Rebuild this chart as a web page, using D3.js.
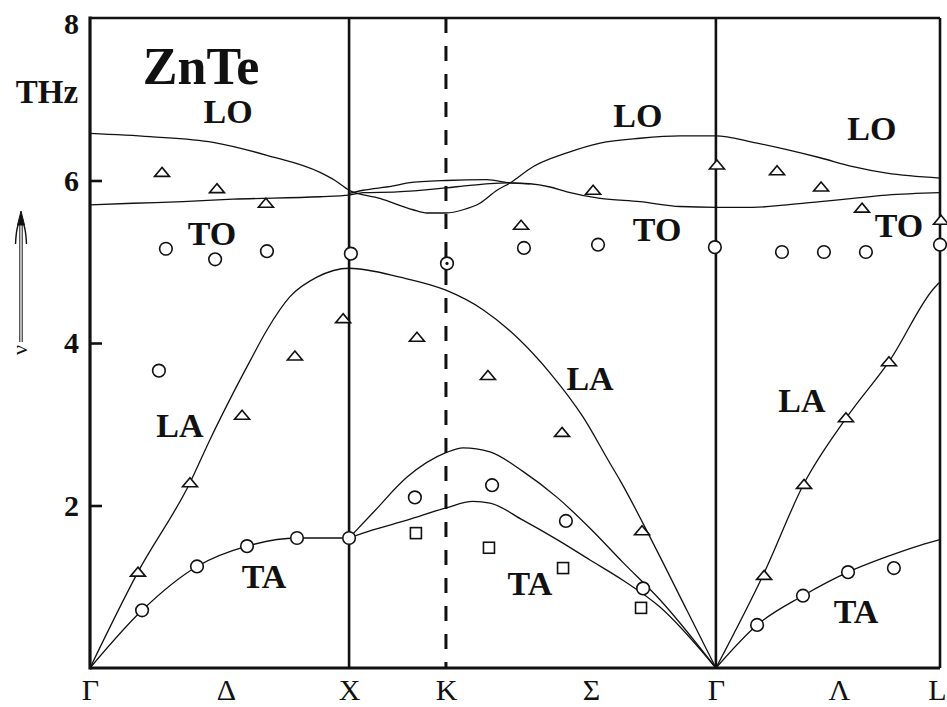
<!DOCTYPE html>
<html>
<head>
<meta charset="utf-8">
<script src="https://cdn.jsdelivr.net/npm/d3@7"></script>
<style>
  body { margin: 0; background: #fff; }
  svg { display: block; }
  text { fill: #111; }
</style>
</head>
<body>
<svg id="chart" width="947" height="707"></svg>
<script>
// ZnTe phonon dispersion along Γ–X–K–Γ–L (wave vector in units of 2π/a, frequency ν in THz)

// High-symmetry points and direction labels along the path
const pointLabels = ["Γ", "Δ", "X", "K", "Σ", "Γ", "Λ", "L"];
const pointQ      = [0, 0.525, 1.0, 1.374, 1.934, 2.416, 2.891, 3.281];
const qMax = 3.281;
const boundaryQ = [1.0, 2.416];   // solid zone-boundary lines (X, Γ)
const dashedQ = [1.374];          // K
const yTicks = [2, 4, 6, 8];

// Calculated branches: [q, ν]
const branchLO = [[0,6.58],[0.232,6.54],[0.475,6.47],[0.683,6.31],[0.888,6.10],[0.946,6.0],[1.0,5.88],
  [1.119,5.78],[1.247,5.64],[1.301,5.60],[1.374,5.60],[1.440,5.64],[1.505,5.72],[1.571,5.88],[1.621,5.97],
  [1.710,6.17],[1.841,6.34],[1.969,6.46],[2.123,6.52],[2.277,6.55],[2.416,6.55],[2.559,6.47],[2.690,6.38],
  [2.818,6.28],[2.945,6.17],[3.076,6.09],[3.281,6.03]];
const branchTO1 = [[0,5.70],[0.166,5.72],[0.359,5.74],[0.552,5.77],[0.888,5.80],[1.0,5.82],[1.054,5.85],
  [1.185,5.86],[1.374,5.91],[1.467,5.94],[1.610,5.97],[1.698,5.96],[1.776,5.92],[1.841,5.86],[1.969,5.78],
  [2.123,5.74],[2.277,5.68],[2.416,5.67],[2.559,5.67],[2.690,5.70],[2.818,5.74],[2.945,5.78],[3.076,5.82],
  [3.281,5.85]];
const branchTO2 = [[1.0,5.84],[1.054,5.88],[1.166,5.93],[1.227,5.97],[1.374,6.0],[1.532,6.01],[1.621,5.97],[1.698,5.96]];
const branchLA1 = [[0,0],[0.185,1.18],[0.386,2.28],[0.463,2.81],[0.552,3.38],[0.618,3.78],[0.683,4.16],
  [0.772,4.57],[0.876,4.81],[1.0,4.92],[1.197,4.81],[1.374,4.65],[1.517,4.41],[1.648,4.07],[1.776,3.63],
  [1.903,3.09],[2.007,2.52],[2.046,2.31],[2.173,1.54],[2.304,0.71],[2.416,0]];
const branchLA2 = [[2.416,0],[2.602,1.17],[2.756,2.27],[2.922,3.09],[3.088,3.79],[3.262,4.69],[3.281,4.75]];
const branchTA1 = [[0,0],[0.201,0.71],[0.413,1.25],[0.606,1.50],[0.799,1.60],[1.0,1.60]];
const branchTAupper = [[1.0,1.60],[1.092,1.91],[1.224,2.35],[1.374,2.65],[1.440,2.71],[1.544,2.66],
  [1.671,2.42],[1.803,2.10],[1.930,1.72],[2.057,1.30],[2.200,0.84],[2.416,0]];
const branchTAlower = [[1.0,1.60],[1.092,1.70],[1.224,1.82],[1.374,1.97],[1.478,2.05],[1.544,2.03],
  [1.671,1.82],[1.803,1.58],[1.930,1.33],[2.057,1.08],[2.200,0.75],[2.416,0]];
const branchTA2 = [[2.416,0],[2.575,0.53],[2.752,0.89],[2.926,1.18],[3.076,1.37],[3.204,1.51],[3.281,1.58]];

// Measured frequencies
const triangles = [[0.278,6.10],[0.490,5.90],[0.679,5.72],[0.185,1.18],[0.386,2.28],[0.587,3.11],
  [0.791,3.84],[0.977,4.30],[1.262,4.07],[1.536,3.60],[1.822,2.90],[2.131,1.69],[1.942,5.88],[1.664,5.45],
  [2.420,6.19],[2.652,6.12],[2.822,5.92],[2.980,5.66],[3.285,5.51],[2.602,1.14],[2.756,2.26],
  [2.918,3.08],[3.084,3.77]];
const circles = [[0.266,3.66],[0.293,5.16],[0.483,5.03],[0.683,5.13],[1.007,5.10],[1.675,5.17],
  [1.961,5.21],[2.412,5.18],[2.671,5.12],[2.833,5.12],[2.995,5.12],[3.281,5.21],
  [0.201,0.71],[0.413,1.25],[0.606,1.50],[0.799,1.60],[1.0,1.60],[1.254,2.10],[1.552,2.25],
  [1.837,1.81],[2.135,0.98],[2.575,0.53],[2.752,0.89],[2.926,1.18],[3.103,1.23]];
const dottedCircles = [[1.378,4.98]];
const squares = [[1.258,1.66],[1.540,1.48],[1.826,1.23],[2.127,0.74]];

// Branch names placed in the plot (q, ν of the text baseline centre)
const branchNames = [
  {t:"LO", q:0.533, v:6.71}, {t:"TO", q:0.471, v:5.21}, {t:"LA", q:0.347, v:2.84}, {t:"TA", q:0.672, v:0.985},
  {t:"LO", q:2.115, v:6.66}, {t:"TO", q:2.189, v:5.25}, {t:"LA", q:1.930, v:3.42}, {t:"TA", q:1.698, v:0.90},
  {t:"LO", q:3.018, v:6.50}, {t:"TO", q:3.123, v:5.30}, {t:"LA", q:2.748, v:3.15}, {t:"TA", q:2.957, v:0.554}
];
const title = {t:"ZnTe", q:0.429, v:7.19};

const svg = d3.select("#chart");
const x = d3.scaleLinear().domain([0, qMax]).range([90, 940]);
const y = d3.scaleLinear().domain([0, 8]).range([668, 18]);
const serif = "'Liberation Serif', 'DejaVu Serif', serif";

// Curves
const line = d3.line().x(d => x(d[0])).y(d => y(d[1])).curve(d3.curveMonotoneX);
const branches = [branchLO, branchTO1, branchTO2, branchLA1, branchLA2, branchTA1, branchTAupper, branchTAlower, branchTA2];
svg.append("g").selectAll("path").data(branches).join("path")
  .attr("d", line).attr("fill", "none").attr("stroke", "#111").attr("stroke-width", 1.3);

// Zone-boundary lines
svg.append("g").selectAll("line").data(boundaryQ).join("line")
  .attr("x1", d => x(d)).attr("x2", d => x(d)).attr("y1", y(8)).attr("y2", y(0))
  .attr("stroke", "#111").attr("stroke-width", 2.6);
svg.append("g").selectAll("line").data(dashedQ).join("line")
  .attr("x1", d => x(d)).attr("x2", d => x(d)).attr("y1", y(8)).attr("y2", y(0))
  .attr("stroke", "#111").attr("stroke-width", 3).attr("stroke-dasharray", "15,13");

// Frame
const frame = svg.append("g").attr("stroke", "#111");
frame.append("line").attr("x1", x(0)).attr("x2", x(qMax)).attr("y1", y(8)).attr("y2", y(8)).attr("stroke-width", 2.6);
frame.append("line").attr("x1", x(qMax)).attr("x2", x(qMax)).attr("y1", y(8)).attr("y2", y(0)).attr("stroke-width", 2.6);
frame.append("line").attr("x1", x(0)).attr("x2", x(qMax)).attr("y1", y(0)).attr("y2", y(0)).attr("stroke-width", 3.2);
frame.append("line").attr("x1", x(0)).attr("x2", x(0)).attr("y1", y(8) - 1.5).attr("y2", y(0) + 1.5).attr("stroke-width", 3.2);

// Axes
const yAxis = svg.append("g").attr("transform", `translate(${x(0)},0)`)
  .call(d3.axisLeft(y).tickValues(yTicks).tickSize(-12).tickPadding(11).tickFormat(d3.format("d")));
yAxis.select(".domain").remove();
yAxis.selectAll(".tick line").attr("stroke", "#111").attr("stroke-width", 2.6);
yAxis.selectAll(".tick text").attr("font-family", serif).attr("font-weight", "bold")
  .attr("font-size", 30).attr("fill", "#111");
yAxis.selectAll(".tick").filter(d => d === 8).select("line").remove();
yAxis.selectAll(".tick").filter(d => d === 8).select("text").attr("dy", "0.52em");

const xAxis = svg.append("g").attr("transform", `translate(0,${y(0)})`)
  .call(d3.axisBottom(x).tickValues(pointQ).tickSize(0).tickPadding(11).tickFormat((d, i) => pointLabels[i]));
xAxis.select(".domain").remove();
xAxis.selectAll(".tick text").attr("font-family", serif).attr("font-size", 30).attr("fill", "#111");
// keep the end label inside the drawing
xAxis.selectAll(".tick").filter((d, i) => i === pointQ.length - 1).select("text").attr("dx", -3);

// Markers
const mk = svg.append("g").attr("fill", "#fff").attr("stroke", "#111").attr("stroke-width", 1.6);
mk.selectAll("path.tri").data(triangles).join("path").attr("class", "tri")
  .attr("transform", d => `translate(${x(d[0])},${y(d[1])})`)
  .attr("d", "M0,-5 L7.5,4 L-7.5,4 Z");
mk.selectAll("circle.c").data(circles.concat(dottedCircles)).join("circle").attr("class", "c")
  .attr("cx", d => x(d[0])).attr("cy", d => y(d[1])).attr("r", 6.3);
svg.append("g").selectAll("circle").data(dottedCircles).join("circle")
  .attr("cx", d => x(d[0])).attr("cy", d => y(d[1])).attr("r", 1.6).attr("fill", "#111");
mk.selectAll("rect").data(squares).join("rect")
  .attr("x", d => x(d[0]) - 5.5).attr("y", d => y(d[1]) - 5.5).attr("width", 11).attr("height", 11);

// Branch names and title
svg.append("g").selectAll("text").data(branchNames).join("text")
  .attr("x", d => x(d.q)).attr("y", d => y(d.v)).attr("text-anchor", "middle")
  .attr("font-family", serif).attr("font-weight", "bold").attr("font-size", 34).text(d => d.t);
svg.append("text").attr("x", x(title.q)).attr("y", y(title.v)).attr("text-anchor", "middle")
  .attr("font-family", serif).attr("font-weight", "bold").attr("font-size", 52).text(title.t);

// Frequency axis title and ν arrow
svg.append("text").attr("x", 47).attr("y", 103).attr("text-anchor", "middle")
  .attr("font-family", serif).attr("font-weight", "bold").attr("font-size", 33).text("THz");
const arrow = svg.append("g").attr("stroke", "#111").attr("fill", "none");
arrow.append("line").attr("x1", 19.8).attr("x2", 19.8).attr("y1", 224).attr("y2", 342).attr("stroke-width", 1);
arrow.append("line").attr("x1", 22.2).attr("x2", 22.2).attr("y1", 224).attr("y2", 342).attr("stroke-width", 1);
arrow.append("path").attr("d", "M21,211 L17.5,225 L24.5,225 Z").attr("fill", "#111").attr("stroke-width", 1);
arrow.append("path").attr("d", "M18,225 Q16,232 15.5,244 M24,225 Q26,232 26.5,244").attr("stroke-width", 1.4);
svg.append("text").attr("transform", "translate(27,350) rotate(-90)").attr("text-anchor", "middle")
  .attr("font-family", serif).attr("font-size", 22).text("ν");
</script>
</body>
</html>
